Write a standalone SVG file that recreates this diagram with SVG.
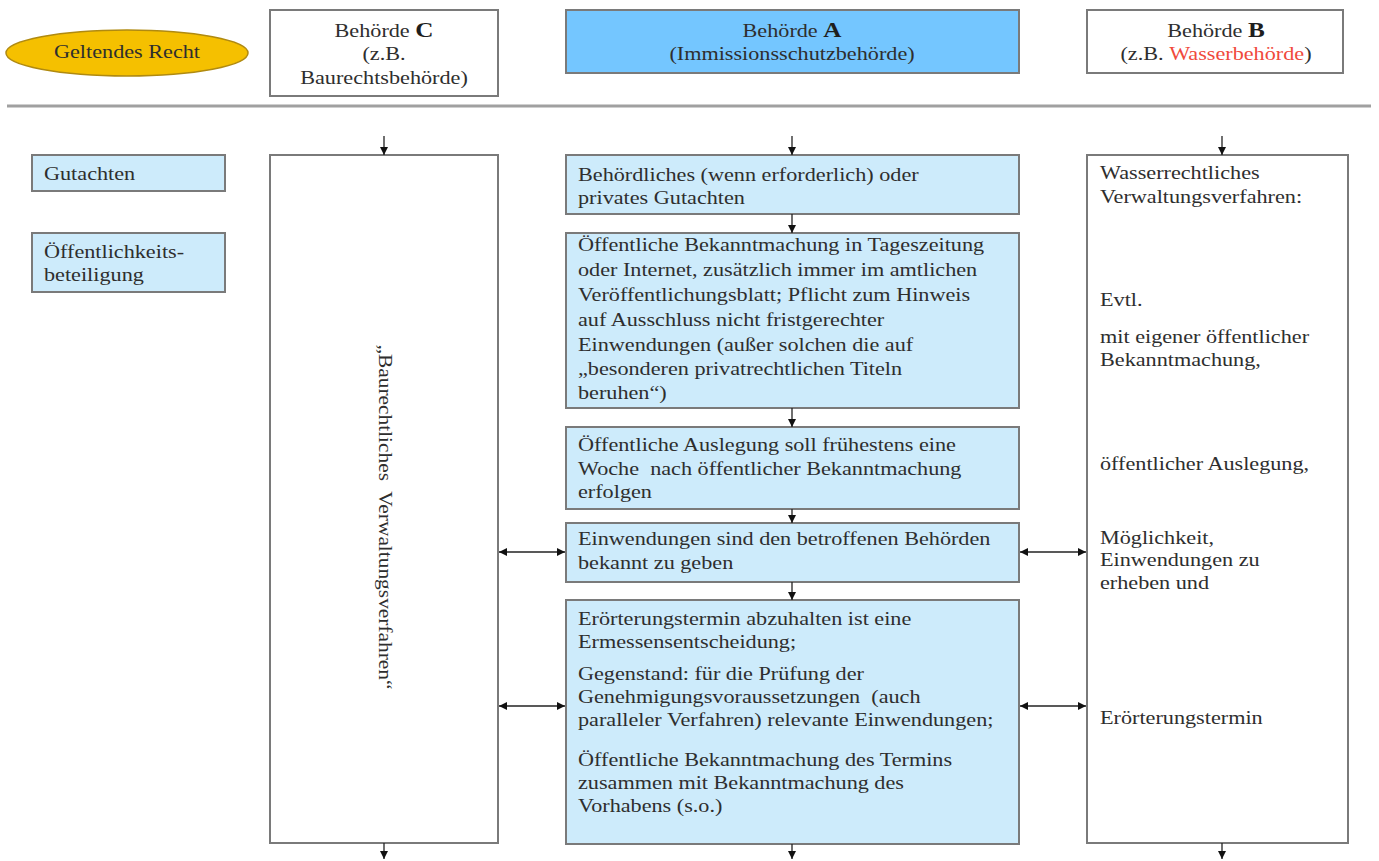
<svg xmlns="http://www.w3.org/2000/svg" width="1379" height="861" viewBox="0 0 1379 861">
<style>
text{font-family:"Liberation Serif","Times New Roman",serif;fill:#2e2e2e;font-size:18.5px;white-space:pre}
.c{text-anchor:middle}
.box{stroke:#7a7a7a;stroke-width:2}
.lb{fill:#cdebfb}
.w{fill:#fff}
.con{stroke:#222;stroke-width:1.3;fill:none}
.big{font-weight:bold;font-size:21px;fill:#1e1e1e}
</style>
<defs>
<marker id="ah" viewBox="0 0 10 10" refX="10" refY="5" markerWidth="8" markerHeight="8" markerUnits="userSpaceOnUse" orient="auto-start-reverse">
<path d="M0,0 L10,5 L0,10 z" fill="#111"/>
</marker>
</defs>
<rect width="1379" height="861" fill="#fff"/>
<g id="geltendes-recht">
<ellipse cx="127" cy="53" rx="121" ry="23" fill="#f5c000" stroke="#b08a10" stroke-width="1.5"/>
<g transform="translate(127,0) scale(1.2,1)"><text class="c" x="0" y="58">Geltendes Recht</text></g>
</g>
<g id="behoerde-c">
<rect class="box w" x="270" y="10" width="228" height="86"/>
<g transform="translate(384,0) scale(1.2,1)">
<text class="c" x="0" y="37">Behörde <tspan class="big">C</tspan></text>
<text class="c" x="0" y="60">(z.B.</text>
<text class="c" x="0" y="84">Baurechtsbehörde)</text>
</g>
</g>
<g id="behoerde-a">
<rect class="box" x="566" y="10" width="453" height="63" fill="#74c6ff"/>
<g transform="translate(792,0) scale(1.2,1)">
<text class="c" x="0" y="37">Behörde <tspan class="big">A</tspan></text>
<text class="c" x="0" y="60">(Immissionsschutzbehörde)</text>
</g>
</g>
<g id="behoerde-b">
<rect class="box w" x="1087" y="10" width="256" height="63"/>
<g transform="translate(1216,0) scale(1.2,1)">
<text class="c" x="0" y="37">Behörde <tspan class="big">B</tspan></text>
<text class="c" x="0" y="60">(z.B. <tspan fill="#f04a3c">Wasserbehörde</tspan>)</text>
</g>
</g>
<g id="trennlinie">
<line x1="7" y1="106" x2="1371" y2="106" stroke="#a0a0a0" stroke-width="3"/>
</g>
<g id="label-gutachten">
<rect class="box lb" x="32" y="155" width="193" height="36"/>
<g transform="translate(44,0) scale(1.2,1)"><text x="0" y="180">Gutachten</text></g>
</g>
<g id="label-oeffentlichkeit">
<rect class="box lb" x="32" y="233" width="193" height="59"/>
<g transform="translate(44,0) scale(1.2,1)">
<text x="0" y="258">Öffentlichkeits-</text>
<text x="0" y="281">beteiligung</text>
</g>
</g>
<g id="verfahren-c">
<rect class="box w" x="270" y="155" width="228" height="688"/>
<text transform="translate(385,517) rotate(90)" class="c" y="6" textLength="345" lengthAdjust="spacingAndGlyphs">„Baurechtliches  Verwaltungsverfahren“</text>
</g>
<g id="a1">
<rect class="box lb" x="566" y="155" width="453" height="59"/>
<g transform="translate(578,0) scale(1.2,1)">
<text x="0" y="181">Behördliches (wenn erforderlich) oder</text>
<text x="0" y="204">privates Gutachten</text>
</g>
</g>
<g id="a2">
<rect class="box lb" x="566" y="233" width="453" height="175"/>
<g transform="translate(578,0) scale(1.2,1)">
<text x="0" y="251">Öffentliche Bekanntmachung in Tageszeitung</text>
<text x="0" y="276">oder Internet, zusätzlich immer im amtlichen</text>
<text x="0" y="301">Veröffentlichungsblatt; Pflicht zum Hinweis</text>
<text x="0" y="326">auf Ausschluss nicht fristgerechter</text>
<text x="0" y="351">Einwendungen (außer solchen die auf</text>
<text x="0" y="375">„besonderen privatrechtlichen Titeln</text>
<text x="0" y="399">beruhen“)</text>
</g>
</g>
<g id="a3">
<rect class="box lb" x="566" y="427" width="453" height="82"/>
<g transform="translate(578,0) scale(1.2,1)">
<text x="0" y="451">Öffentliche Auslegung soll frühestens eine</text>
<text x="0" y="475">Woche  nach öffentlicher Bekanntmachung</text>
<text x="0" y="498">erfolgen</text>
</g>
</g>
<g id="a4">
<rect class="box lb" x="566" y="523" width="453" height="59"/>
<g transform="translate(578,0) scale(1.2,1)">
<text x="0" y="545">Einwendungen sind den betroffenen Behörden</text>
<text x="0" y="569">bekannt zu geben</text>
</g>
</g>
<g id="a5">
<rect class="box lb" x="566" y="600" width="453" height="244"/>
<g transform="translate(578,0) scale(1.2,1)">
<text x="0" y="625">Erörterungstermin abzuhalten ist eine</text>
<text x="0" y="648">Ermessensentscheidung;</text>
<text x="0" y="680">Gegenstand: für die Prüfung der</text>
<text x="0" y="703">Genehmigungsvoraussetzungen  (auch</text>
<text x="0" y="726">paralleler Verfahren) relevante Einwendungen;</text>
<text x="0" y="766">Öffentliche Bekanntmachung des Termins</text>
<text x="0" y="789">zusammen mit Bekanntmachung des</text>
<text x="0" y="812">Vorhabens (s.o.)</text>
</g>
</g>
<g id="verfahren-b">
<rect class="box w" x="1087" y="155" width="261" height="688"/>
<g transform="translate(1100,0) scale(1.2,1)">
<text x="0" y="179">Wasserrechtliches</text>
<text x="0" y="203">Verwaltungsverfahren:</text>
<text x="0" y="306">Evtl.</text>
<text x="0" y="343">mit eigener öffentlicher</text>
<text x="0" y="366">Bekanntmachung,</text>
<text x="0" y="470">öffentlicher Auslegung,</text>
<text x="0" y="544">Möglichkeit,</text>
<text x="0" y="566">Einwendungen zu</text>
<text x="0" y="589">erheben und</text>
<text x="0" y="724">Erörterungstermin</text>
</g>
</g>
<g id="connectors">
<line class="con" x1="384" y1="136" x2="384" y2="155" marker-end="url(#ah)"/>
<line class="con" x1="792" y1="136" x2="792" y2="155" marker-end="url(#ah)"/>
<line class="con" x1="1222" y1="136" x2="1222" y2="155" marker-end="url(#ah)"/>
<line class="con" x1="792" y1="214" x2="792" y2="233" marker-end="url(#ah)"/>
<line class="con" x1="792" y1="408" x2="792" y2="427" marker-end="url(#ah)"/>
<line class="con" x1="792" y1="509" x2="792" y2="523" marker-end="url(#ah)"/>
<line class="con" x1="792" y1="582" x2="792" y2="600" marker-end="url(#ah)"/>
<line class="con" x1="384" y1="843" x2="384" y2="859" marker-end="url(#ah)"/>
<line class="con" x1="792" y1="844" x2="792" y2="859" marker-end="url(#ah)"/>
<line class="con" x1="1222" y1="843" x2="1222" y2="859" marker-end="url(#ah)"/>
<line class="con" x1="499" y1="552" x2="565" y2="552" marker-start="url(#ah)" marker-end="url(#ah)"/>
<line class="con" x1="499" y1="706" x2="565" y2="706" marker-start="url(#ah)" marker-end="url(#ah)"/>
<line class="con" x1="1020" y1="552" x2="1086" y2="552" marker-start="url(#ah)" marker-end="url(#ah)"/>
<line class="con" x1="1020" y1="706" x2="1086" y2="706" marker-start="url(#ah)" marker-end="url(#ah)"/>
</g>
</svg>
